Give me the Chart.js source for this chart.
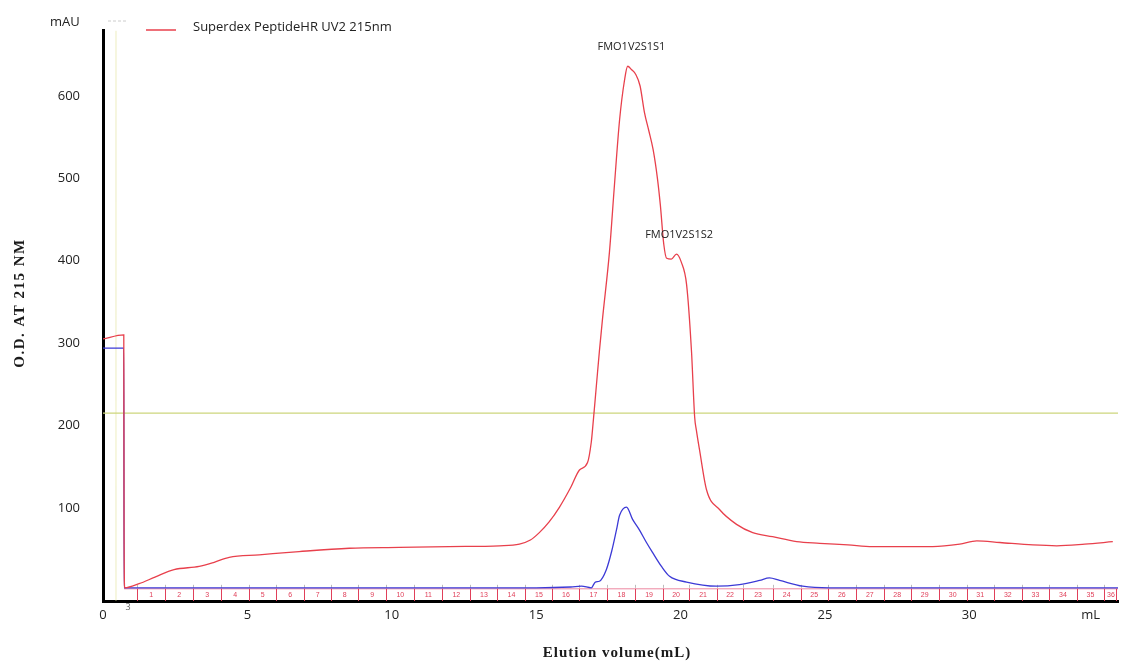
<!DOCTYPE html>
<html>
<head>
<meta charset="utf-8">
<title>Superdex PeptideHR UV2 215nm</title>
<script src="https://cdn.jsdelivr.net/npm/chart.js@4/dist/chart.umd.min.js"></script>
<style>
  body { margin: 0; background: #fff; }
  #wrap { width: 1122px; height: 661px; position: relative; }
</style>
</head>
<body>
<div id="wrap"><canvas id="elutionChart"></canvas></div>
<script>
// UV 215 nm trace (mL, mAU)
const redVolume = [0, 0.72, 0.73, 0.75, 1.25, 1.8, 2.46, 3.33, 3.85, 4.37, 5.41, 6.79, 8.53, 10.26, 11.99, 13.73,
  14.42, 14.8, 15.11, 15.45, 15.81, 16.2, 16.5, 16.78, 16.91, 16.95, 17.09, 17.19, 17.3, 17.54, 17.71, 17.89, 18.06,
  18.17, 18.3, 18.45, 18.6, 18.75, 18.9, 19.05, 19.2, 19.3, 19.42, 19.52, 19.68, 19.86, 20.03, 20.21, 20.38,
  20.49, 20.55, 20.66, 20.9, 21.35, 21.94, 22.5, 23.19, 24.02, 24.82, 25.8, 26.65, 28.73, 29.67, 30.26, 31.06,
  32.2, 33.03, 34.0, 34.97];
const redAbs = [305, 310, 64, 3, 8, 16, 25, 29, 34, 40, 43, 47, 51, 52, 53, 54,
  56, 61, 70, 83, 101, 125, 146, 155, 180, 194, 250, 290, 330, 411, 491, 571, 619,
  636, 632, 626, 612, 580, 558, 535, 500, 468, 420, 403, 402, 408, 398, 371, 290,
  210, 194, 170, 122, 98, 80, 70, 65, 59, 57, 55, 53, 53, 56, 60, 58,
  55, 54, 56, 59];

// second detector trace
const blueVolume = [0, 0.72, 0.73, 5, 10, 15, 16.2, 16.57, 16.91, 17.05, 17.19, 17.43, 17.62, 17.78, 17.89, 18.13,
  18.34, 18.58, 18.82, 19.03, 19.34, 19.62, 20.21, 21.25, 22.04, 22.74, 23.08, 23.43, 24.23, 25.16, 30, 35.15];
const blueAbs = [294, 294, 3, 3, 3, 3, 4, 5, 3, 10, 11, 25, 48, 73, 91, 101,
  86, 73, 58, 46, 29, 17, 10, 5, 7, 12, 15, 12, 5, 3, 3, 3];

// threshold line
const thresholdVolume = [0, 35.15];
const thresholdAbs = [215, 215];

// fraction collector marks
const fractionEdges = [1.18, 2.15, 3.12, 4.09, 5.06, 6.0, 6.97, 7.9, 8.84, 9.81, 10.78, 11.75, 12.72, 13.66,
  14.63, 15.56, 16.5, 17.47, 18.44, 19.38, 20.31, 21.25, 22.18, 23.19, 24.16, 25.1, 26.07, 27.04, 27.97, 28.94,
  29.91, 30.85, 31.82, 32.76, 33.73, 34.66];
const fractionLabels = ['1', '2', '3', '4', '5', '6', '7', '8', '9', '10', '11', '12', '13', '14', '15', '16',
  '17', '18', '19', '20', '21', '22', '23', '24', '25', '26', '27', '28', '29', '30', '31', '32', '33',
  '34', '35', '36'];

// peak names
const peakNames = ['FMO1V2S1S1', 'FMO1V2S1S2'];
const peakVolume = [18.3, 19.95];
const peakAbs = [636, 408];

const xTicks = [0, 5, 10, 15, 20, 25, 30, 34.2];
const yTicks = [100, 200, 300, 400, 500, 600];

const X_MAX = 35.15;

function toPoints(xs, ys) {
  return xs.map((x, i) => ({ x: x, y: ys[i] }));
}

// extra drawing: fraction ruler, legend, peak names, axis titles
const decorations = {
  id: 'decorations',
  beforeDatasetsDraw(chart) {
    const { ctx, scales: { x, y }, chartArea } = chart;
    const top = y.getPixelForValue(3) + 1;
    const bottom = chartArea.bottom;
    ctx.save();
    // faint injection mark
    ctx.strokeStyle = 'rgba(225,225,150,0.6)';
    ctx.lineWidth = 1;
    ctx.beginPath();
    ctx.moveTo(x.getPixelForValue(0.45), chartArea.top);
    ctx.lineTo(x.getPixelForValue(0.45), bottom);
    ctx.stroke();

    ctx.strokeStyle = 'rgba(235,120,150,0.9)';
    ctx.beginPath();
    ctx.moveTo(x.getPixelForValue(0.73), top);
    ctx.lineTo(chartArea.right, top);
    ctx.stroke();

    ctx.strokeStyle = '#e0405a';
    fractionEdges.forEach(v => {
      const px = Math.round(x.getPixelForValue(v)) + 0.5;
      ctx.beginPath();
      ctx.moveTo(px, top);
      ctx.lineTo(px, bottom);
      ctx.stroke();
    });
    ctx.beginPath();
    ctx.moveTo(chartArea.right - 1.5, top);
    ctx.lineTo(chartArea.right - 1.5, bottom);
    ctx.stroke();

    // small grey ticks above the ruler
    ctx.strokeStyle = '#bbb';
    fractionEdges.forEach(v => {
      const px = Math.round(x.getPixelForValue(v)) + 0.5;
      ctx.beginPath();
      ctx.moveTo(px, top - 4);
      ctx.lineTo(px, top - 1);
      ctx.stroke();
    });

    ctx.fillStyle = '#e0405a';
    ctx.font = '7px "Liberation Sans"';
    ctx.textAlign = 'center';
    ctx.textBaseline = 'middle';
    fractionEdges.forEach((v, i) => {
      const next = i + 1 < fractionEdges.length ? fractionEdges[i + 1] : X_MAX;
      const mid = (x.getPixelForValue(v) + x.getPixelForValue(next)) / 2;
      ctx.fillText(fractionLabels[i], mid, (top + bottom) / 2);
    });
    ctx.restore();
  },
  afterDraw(chart) {
    const { ctx, scales: { x, y } } = chart;
    ctx.save();
    ctx.fillStyle = '#222';
    ctx.font = '13px "Open Sans"';
    ctx.textBaseline = 'middle';
    ctx.textAlign = 'left';
    ctx.fillText('mAU', 50, 22);

    // legend
    ctx.strokeStyle = '#ccc';
    ctx.setLineDash([3, 2]);
    ctx.beginPath();
    ctx.moveTo(108, 21);
    ctx.lineTo(128, 21);
    ctx.stroke();
    ctx.setLineDash([]);
    ctx.strokeStyle = '#e8404c';
    ctx.lineWidth = 1.5;
    ctx.beginPath();
    ctx.moveTo(146, 30);
    ctx.lineTo(176, 30);
    ctx.stroke();
    ctx.fillText('Superdex PeptideHR UV2 215nm', 193, 27);

    // peak names
    ctx.font = '11px "Open Sans"';
    ctx.textAlign = 'center';
    ctx.fillText(peakNames[0], x.getPixelForValue(peakVolume[0]), y.getPixelForValue(peakAbs[0]) - 19);
    ctx.fillText(peakNames[1], x.getPixelForValue(peakVolume[1]), y.getPixelForValue(peakAbs[1]) - 19);

    ctx.font = '9px "Open Sans"';
    ctx.fillStyle = '#666';
    ctx.fillText('3', 128, 607);

    // axis titles
    ctx.fillStyle = '#1a1a1a';
    ctx.letterSpacing = '1px';
    ctx.font = 'bold 15px "Liberation Serif"';
    ctx.fillText('Elution volume(mL)', 617, 653);
    ctx.translate(20, 303);
    ctx.rotate(-Math.PI / 2);
    ctx.letterSpacing = '1.5px';
    ctx.fillText('O.D. AT 215 NM', 0, 0);
    ctx.restore();
  }
};

function createElutionChart() {
  const ctx = document.getElementById('elutionChart').getContext('2d');
  new Chart(ctx, {
    type: 'line',
    data: {
      datasets: [
        {
          label: 'Superdex PeptideHR UV2 215nm',
          data: toPoints(redVolume, redAbs),
          borderColor: '#e8404c',
          borderWidth: 1.3,
          pointRadius: 0,
          cubicInterpolationMode: 'monotone',
          order: 0
        },
        {
          label: 'UV',
          data: toPoints(blueVolume, blueAbs),
          borderColor: '#3c3ad6',
          borderWidth: 1.3,
          pointRadius: 0,
          cubicInterpolationMode: 'monotone',
          order: 1
        },
        {
          label: 'threshold',
          data: toPoints(thresholdVolume, thresholdAbs),
          borderColor: 'rgb(205,214,125)',
          borderWidth: 1.3,
          pointRadius: 0,
          order: 2
        }
      ]
    },
    options: {
      responsive: true,
      maintainAspectRatio: false,
      animation: false,
      layout: { padding: { top: 30, right: 4, left: 0, bottom: 0 } },
      plugins: {
        legend: { display: false },
        tooltip: { enabled: false }
      },
      scales: {
        x: {
          type: 'linear',
          min: 0,
          max: X_MAX,
          afterFit: s => { s.height = 60; },
          afterBuildTicks: s => { s.ticks = xTicks.map(v => ({ value: v })); },
          grid: { display: false, drawTicks: false },
          border: { display: true, color: '#000', width: 3 },
          ticks: {
            autoSkip: false,
            maxRotation: 0,
            padding: 6,
            color: '#222',
            font: { family: 'Open Sans', size: 13 },
            callback: v => (v === 34.2 ? 'mL' : v)
          }
        },
        y: {
          min: -13,
          max: 679,
          afterFit: s => { s.width = 103; },
          afterBuildTicks: s => { s.ticks = yTicks.map(v => ({ value: v })); },
          grid: { display: false, drawTicks: false },
          border: { display: true, color: '#000', width: 3 },
          ticks: {
            padding: 23,
            color: '#222',
            font: { family: 'Open Sans', size: 13 }
          }
        }
      }
    },
    plugins: [decorations]
  });
}

document.addEventListener('DOMContentLoaded', function() {
  createElutionChart();
});
</script>
</body>
</html>
